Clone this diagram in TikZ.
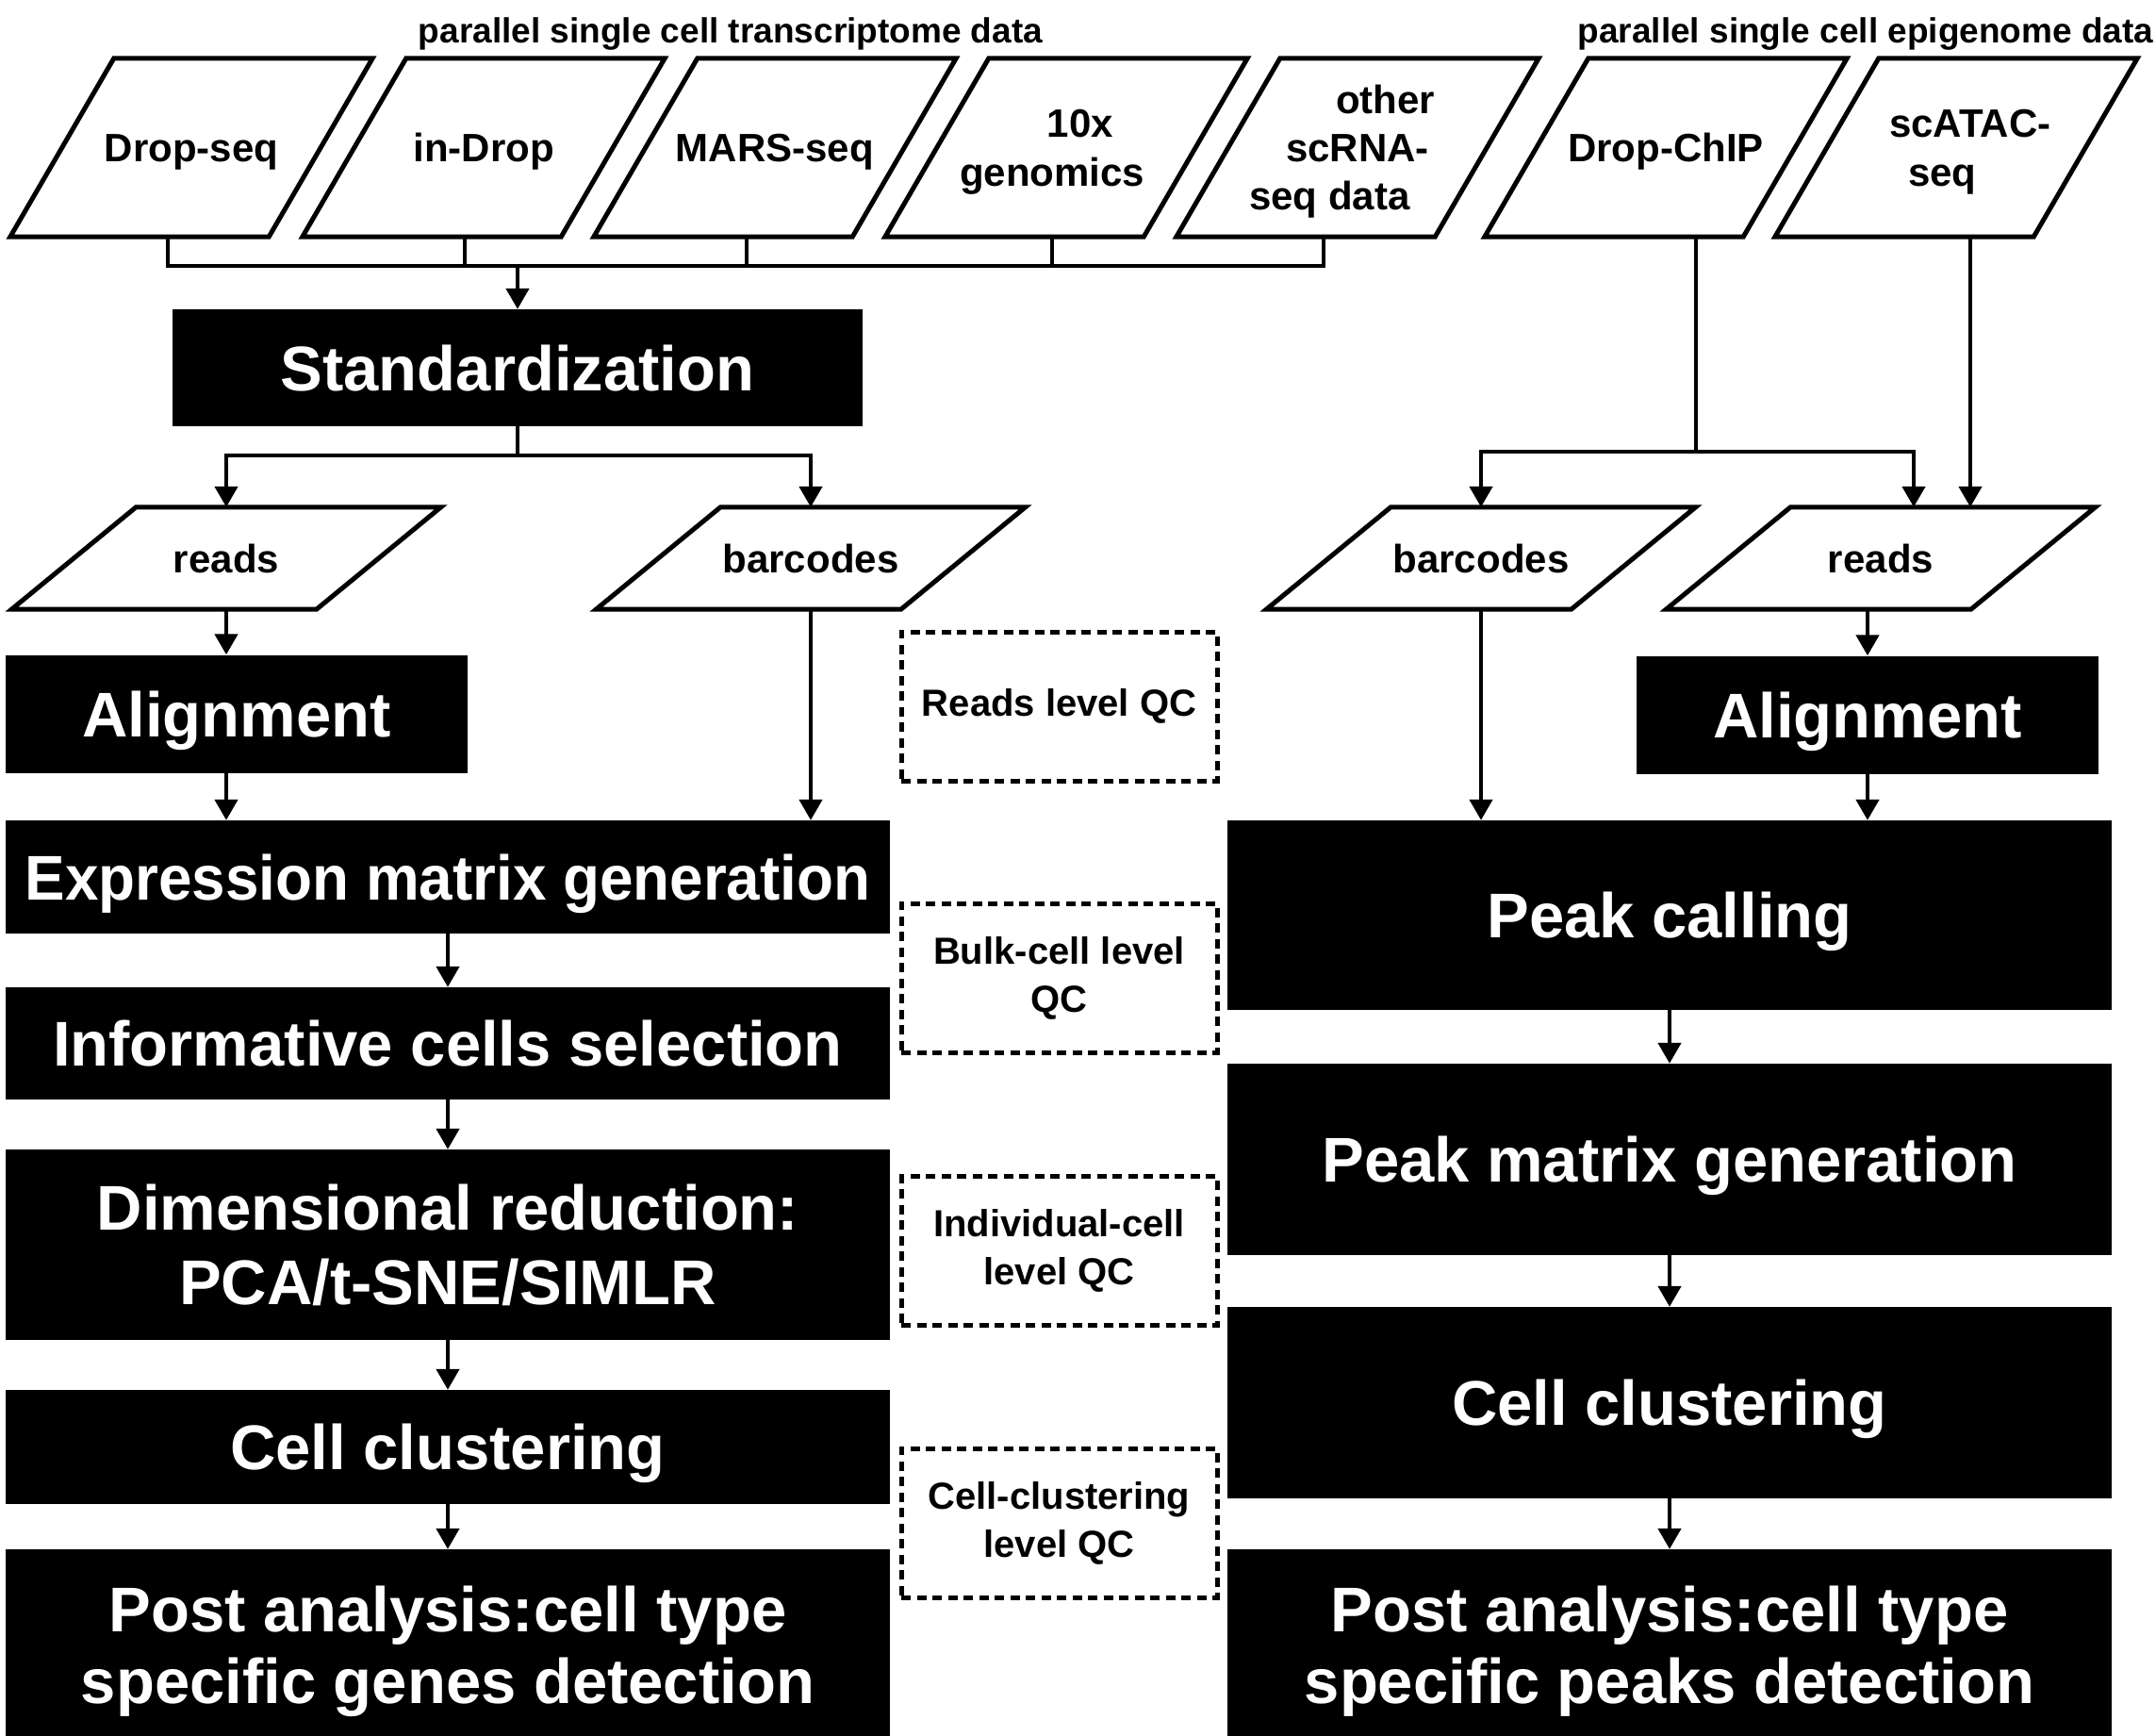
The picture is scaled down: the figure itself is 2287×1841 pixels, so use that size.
\documentclass[tikz,border=0pt]{standalone}
\usepackage{fontspec}
\setmainfont{Liberation Sans}
\usetikzlibrary{arrows.meta,calc}
\begin{document}
\begin{tikzpicture}[x=1pt,y=-1pt,
  conn/.style={line width=4.5pt},
  arr/.style={conn,-{Triangle[length=22pt,width=24pt]}},
  pline/.style={line width=5pt},
  ptop/.style={inner sep=0pt,minimum width=274pt,minimum height=189pt,
    font=\bfseries\fontsize{42}{51}\selectfont,text height=30pt,text depth=0pt},
  plow/.style={inner sep=0pt,minimum width=323pt,minimum height=108pt,
    font=\bfseries\fontsize{42}{51}\selectfont,text height=30pt,text depth=0pt},
  ptxt/.style={inner sep=0pt,font=\bfseries\fontsize{42}{51}\selectfont,text height=30pt,text depth=0pt},
  blk/.style={fill=black,text=white,inner sep=0pt,
    font=\bfseries\fontsize{67}{79}\selectfont,text height=48pt,text depth=0pt},
  wtxt/.style={text=white,inner sep=0pt,
    font=\bfseries\fontsize{67}{79}\selectfont,text height=48pt,text depth=0pt},
  qc/.style={draw,line width=5pt,dash pattern=on 10pt off 6.5pt,
    minimum width=335pt,minimum height=158pt,inner sep=0pt,align=center,
    font=\bfseries\fontsize{40}{51}\selectfont},
  ttl/.style={inner sep=0pt,anchor=base,font=\bfseries\fontsize{37}{44}\selectfont}
]
\fill[white] (0,0) rectangle (2287,1841);
\useasboundingbox (0,0) rectangle (2287,1841);

% titles
\node[ttl] (t1) at (775,46) {parallel single cell transcriptome data};
\node[ttl] (t2) at (1979,46) {parallel single cell epigenome data};

% top parallelograms
\node[ptop] (ds) at (203,156.5) {Drop-seq};
\node[ptop] (id) at (513,156.5) {in-Drop};
\node[ptop] (ms) at (822,156.5) {MARS-seq};
\node[ptop] (tx) at (1131,156.5) {};
\node[ptxt] (tx1) at ($(tx)+(14.8,-25.5)$) {10x};
\node[ptxt] (tx2) at ($(tx)+(-14.8,25.5)$) {genomics};
\node[ptop] (ot) at (1440,156.5) {};
\node[ptxt] (ot1) at ($(ot)+(29.7,-51)$) {other};
\node[ptxt] (ot2) at (ot) {scRNA-};
\node[ptxt] (ot3) at ($(ot)+(-29.7,51)$) {seq data};
\node[ptop] (dc) at (1767,156.5) {Drop-ChIP};
\node[ptop] (sa) at (2075,156.5) {};
\node[ptxt] (sa1) at ($(sa)+(14.8,-25.5)$) {scATAC-};
\node[ptxt] (sa2) at ($(sa)+(-14.8,25.5)$) {seq};
\foreach \n in {ds,id,ms,tx,ot,dc,sa}
  \draw[pline] ([xshift=-55pt]\n.south west) -- ([xshift=-55pt]\n.south east)
    -- ([xshift=55pt]\n.north east) -- ([xshift=55pt]\n.north west) -- cycle;

% lower parallelograms
\node[plow] (rdL) at (240,592) {reads};
\node[plow] (bcL) at (860,592) {barcodes};
\node[plow] (bcR) at (1571,592) {barcodes};
\node[plow] (rdR) at (1995,592) {reads};
\foreach \n in {rdL,bcL,bcR,rdR}
  \draw[pline] ([xshift=-66pt]\n.south west) -- ([xshift=-66pt]\n.south east)
    -- ([xshift=66pt]\n.north east) -- ([xshift=66pt]\n.north west) -- cycle;

% black boxes, left
\node[blk,minimum width=732pt,minimum height=124pt] (std) at (549,390) {Standardization};
\node[blk,minimum width=490pt,minimum height=125pt] (alL) at (251,757) {Alignment};
\node[blk,minimum width=938pt,minimum height=120pt] (expr) at (475,930) {\scalebox{0.952}[1]{Expression matrix generation}};
\node[blk,minimum width=938pt,minimum height=119pt] (info) at (475,1106.5) {Informative cells selection};
\node[blk,minimum width=938pt,minimum height=202pt] (dim) at (475,1320) {};
\node[wtxt] (dim1) at ($(dim)+(0,-40)$) {Dimensional reduction:};
\node[wtxt] (dim2) at ($(dim)+(0,39)$) {PCA/t-SNE/SIMLR};
\node[blk,minimum width=938pt,minimum height=121pt] (clL) at (475,1534.5) {Cell clustering};
\node[blk,minimum width=938pt,minimum height=202pt] (postL) at (475,1744) {};
\node[wtxt] (postL1) at ($(postL)+(0,-38)$) {Post analysis:cell type};
\node[wtxt] (postL2) at ($(postL)+(0,38)$) {specific genes detection};

% black boxes, right
\node[blk,minimum width=490pt,minimum height=125pt] (alR) at (1981,758) {Alignment};
\node[blk,minimum width=938pt,minimum height=201pt] (peak) at (1771,970.5) {Peak calling};
\node[blk,minimum width=938pt,minimum height=203pt] (pmat) at (1771,1229.5) {Peak matrix generation};
\node[blk,minimum width=938pt,minimum height=203pt] (clR) at (1771,1487.5) {Cell clustering};
\node[blk,minimum width=938pt,minimum height=202pt] (postR) at (1771,1744) {};
\node[wtxt] (postR1) at ($(postR)+(0,-38)$) {Post analysis:cell type};
\node[wtxt] (postR2) at ($(postR)+(0,38)$) {specific peaks detection};

% QC boxes
\node[qc] (q1) at (1123.5,749) {Reads level QC};
\node[qc] (q2) at (1123.5,1037) {Bulk-cell level\\QC};
\node[qc] (q3) at (1123.5,1326.5) {Individual-cell\\level QC};
\node[qc] (q4) at (1123.5,1615) {Cell-clustering\\level QC};

% top bus (transcriptome)
\coordinate (busy) at (0,282);
\coordinate (dsd) at ([xshift=-25pt]ds.south);
\coordinate (idd) at ([xshift=-20pt]id.south);
\coordinate (msd) at ([xshift=-30pt]ms.south);
\coordinate (txd) at ([xshift=-15pt]tx.south);
\coordinate (otd) at ([xshift=-36pt]ot.south);
\draw[conn] (dsd) -- (dsd |- busy) -- (otd |- busy) -- (otd);
\draw[conn] (idd) -- (idd |- busy);
\draw[conn] (msd) -- (msd |- busy);
\draw[conn] (txd) -- (txd |- busy);
\draw[arr] (std.north |- busy) -- (std.north);

% standardization split
\coordinate (sy) at (0,483);
\draw[arr] (std.south) -- (std.south |- sy) -| (rdL.north);
\draw[arr] (std.south |- sy) -| (bcL.north);

% left column
\draw[arr] (rdL.south) -- (rdL.south |- alL.north);
\draw[arr] (rdL.south |- alL.south) -- (rdL.south |- expr.north);
\draw[arr] (bcL.south) -- (bcL.south |- expr.north);
\draw[arr] (expr.south) -- (info.north);
\draw[arr] (info.south) -- (dim.north);
\draw[arr] (dim.south) -- (clL.north);
\draw[arr] (clL.south) -- (postL.north);

% right side
\coordinate (ry) at (0,479);
\coordinate (dcd) at ([xshift=32pt]dc.south);
\coordinate (sad) at ([xshift=15pt]sa.south);
\coordinate (rdRa) at ([xshift=35pt]rdR.north);
\draw[arr] (dcd) -- (dcd |- ry) -| (bcR.north);
\draw[arr] (dcd |- ry) -| (rdRa);
\draw[arr] (sad) -- (sad |- rdRa);
\draw[arr] (alR.north |- rdR.south) -- (alR.north);
\draw[arr] (alR.south) -- (alR.south |- peak.north);
\draw[arr] (bcR.south) -- (bcR.south |- peak.north);
\draw[arr] (peak.south) -- (pmat.north);
\draw[arr] (pmat.south) -- (clR.north);
\draw[arr] (clR.south) -- (postR.north);
\end{tikzpicture}
\end{document}
